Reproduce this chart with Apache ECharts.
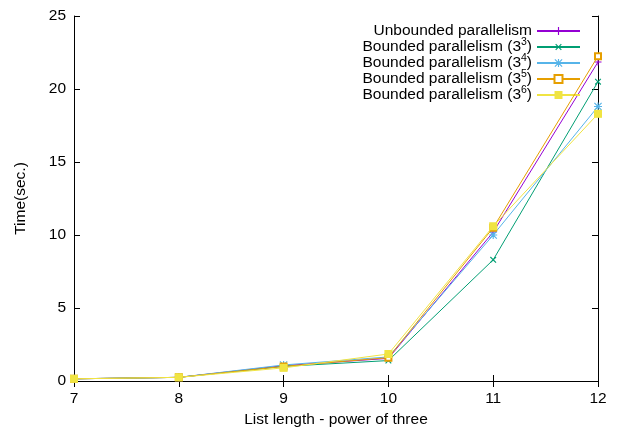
<!DOCTYPE html>
<html>
<head>
<meta charset="utf-8">
<script src="https://cdn.jsdelivr.net/npm/echarts@6/dist/echarts.min.js"></script>
<style>
  html, body { margin: 0; padding: 0; background: #fff; }
  #main { width: 618px; height: 427px; }
</style>
</head>
<body>
<div id="main"></div>
<script>
// list length as power of three
var lengths = [7, 8, 9, 10, 11, 12];

var unbounded = [0.15, 0.25, 1.05, 1.55, 10.2, 21.85];
var bounded3 = [0.15, 0.25, 1.0, 1.4, 8.3, 20.5];
var bounded4 = [0.15, 0.25, 1.1, 1.65, 10.0, 18.8];
var bounded5 = [0.15, 0.25, 1.0, 1.6, 10.5, 22.25];
var bounded6 = [0.15, 0.25, 0.9, 1.85, 10.6, 18.3];

var names = ['Unbounded parallelism', 'Bounded parallelism (3^3)', 'Bounded parallelism (3^4)',
  'Bounded parallelism (3^5)', 'Bounded parallelism (3^6)'];
var colors = ['#9400d3', '#009e73', '#56b4e9', '#e69f00', '#f0e442'];

var FONT = 'Liberation Sans';
var FS = 15.5;

var plus = 'path://M3,0H4V3H7V4H4V7H3V4H0V3H3Z';
var star = 'path://M3,0H4V3H7V4H4V7H3V4H0V3H3Z M0,0.7L0.7,0L7,6.3L6.3,7Z M6.3,0L7,0.7L0.7,7L0,6.3Z';

function pairs(vals) {
  return vals.map(function (v, i) { return [lengths[i], v]; });
}

function makeSeries(i, vals, symbol, size, extra) {
  var s = {
    name: names[i],
    type: 'line',
    data: pairs(vals),
    symbol: symbol,
    symbolSize: size,
    showSymbol: true,
    lineStyle: { color: colors[i], width: 1 },
    itemStyle: { color: colors[i], borderWidth: 1 },
    z: 2 + i
  };
  for (var k in extra) s[k] = extra[k];
  return s;
}

var chart = echarts.init(document.getElementById('main'));
var option = {
  animation: false,
  color: colors,
  grid: { left: 74, right: 20, top: 16, bottom: 46, outerBoundsMode: 'none' },
  legend: {
    orient: 'vertical',
    right: 37,
    top: 23,
    padding: 0,
    align: 'right',
    itemWidth: 43,
    itemHeight: 10,
    itemGap: -2,
    data: names,
    formatter: function (name) {
      var m = name.match(/^(.*\(3)\^(\d)\)$/);
      if (!m) return '{a|' + name + '}';
      return '{a|' + m[1] + '}{s|' + m[2] + '}{a|)}';
    },
    textStyle: {
      color: '#000',
      fontFamily: FONT,
      fontSize: FS,
      rich: {
        a: { fontFamily: FONT, fontSize: FS, color: '#000', lineHeight: 16, verticalAlign: 'bottom' },
        s: { fontFamily: FONT, fontSize: 10.5, color: '#000', lineHeight: 12, verticalAlign: 'bottom', padding: [0, 0, 7, 0] }
      }
    }
  },
  xAxis: [{
    type: 'value',
    min: 7,
    max: 12,
    interval: 1,
    name: 'List length - power of three',
    nameLocation: 'middle',
    nameGap: 31,
    nameTextStyle: { color: '#000', fontFamily: FONT, fontSize: FS },
    axisLine: { lineStyle: { color: '#000', width: 1 } },
    axisTick: { inside: true, length: 6, lineStyle: { color: '#000' } },
    axisLabel: { color: '#000', fontFamily: FONT, fontSize: FS, margin: 10 },
    splitLine: { show: false }
  }, {
    type: 'value',
    position: 'top',
    min: 7,
    max: 12,
    interval: 1,
    axisLine: { lineStyle: { color: '#000', width: 1 } },
    axisTick: { inside: true, length: 6, lineStyle: { color: '#000' } },
    axisLabel: { show: false },
    splitLine: { show: false }
  }],
  yAxis: [{
    type: 'value',
    min: 0,
    max: 25,
    interval: 5,
    name: 'Time(sec.)',
    nameLocation: 'middle',
    nameGap: 45,
    nameTextStyle: { color: '#000', fontFamily: FONT, fontSize: FS },
    axisLine: { show: true, lineStyle: { color: '#000', width: 1 } },
    axisTick: { show: true, inside: true, length: 6, lineStyle: { color: '#000' } },
    axisLabel: { color: '#000', fontFamily: FONT, fontSize: FS, margin: 8 },
    splitLine: { show: false }
  }, {
    type: 'value',
    position: 'right',
    min: 0,
    max: 25,
    interval: 5,
    axisLine: { show: true, lineStyle: { color: '#000', width: 1 } },
    axisTick: { show: true, inside: true, length: 6, lineStyle: { color: '#000' } },
    axisLabel: { show: false },
    splitLine: { show: false }
  }],
  series: [
    makeSeries(0, unbounded, plus, 7, {}),
    makeSeries(1, bounded3, plus, 8, { symbolRotate: 45 }),
    makeSeries(2, bounded4, star, 8, {}),
    makeSeries(3, bounded5, 'emptyRect', 6, {}),
    makeSeries(4, bounded6, 'rect', 8, {})
  ]
};
chart.setOption(option);
window.onresize = chart.resize;
</script>
</body>
</html>
